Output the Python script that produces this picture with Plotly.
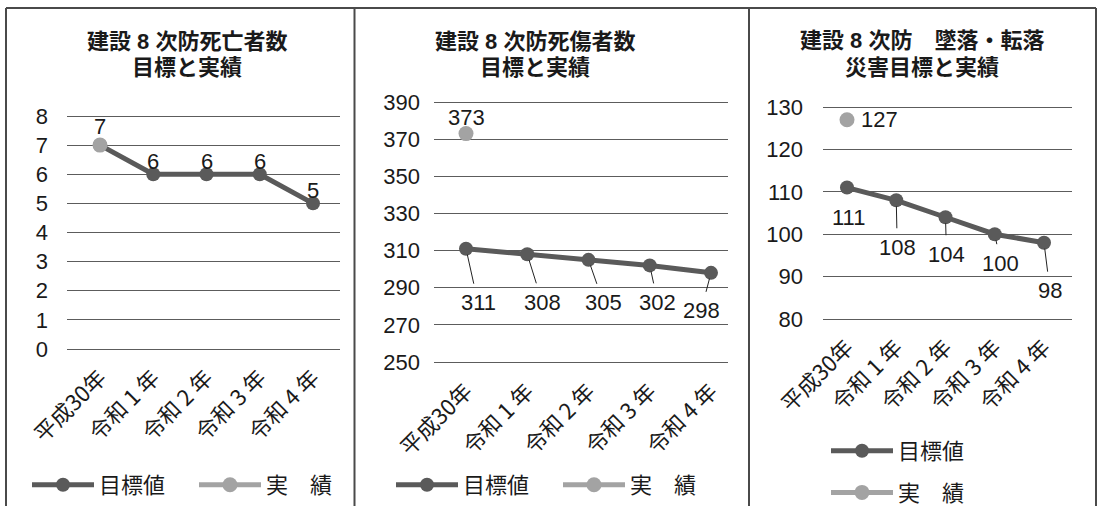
import plotly.graph_objects as go

W, H = 1100, 506

categories = ["平成30年", "令和 1 年", "令和 2 年", "令和 3 年", "令和 4 年"]

deaths_target = [7, 6, 6, 6, 5]
deaths_actual = [7]

casualties_target = [311, 308, 305, 302, 298]
casualties_actual = [373]

falls_target = [111, 108, 104, 100, 98]
falls_actual = [127]

titles = [["建設 8 次防死亡者数", "目標と実績"],
          ["建設 8 次防死傷者数", "目標と実績"],
          ["建設 8 次防　墜落・転落", "災害目標と実績"]]

y_ticks = [[0, 1, 2, 3, 4, 5, 6, 7, 8],
           [250, 270, 290, 310, 330, 350, 370, 390],
           [80, 90, 100, 110, 120, 130]]

DARK = "#5a5a5a"
LIGHT = "#a3a3a3"
GRID = "#5c5c5c"
NUM_FONT = "Liberation Sans, Arial, Noto Sans CJK JP, sans-serif"
JP_FONT = "Noto Sans CJK JP, Liberation Sans, sans-serif"


def xlayout(p0, p4, left, right):
    u = (p4 - p0) / 4.0
    return [left / W, right / W], [-(p0 - left) / u, 4 + (right - p4) / u]


def ylayout(v_lo, p_lo, v_hi, p_hi, r_lo, r_hi):
    k = (p_lo - p_hi) / (v_hi - v_lo)
    top = p_hi - (r_hi - v_hi) * k
    bot = p_lo + (v_lo - r_lo) * k
    return [1 - bot / H, 1 - top / H], [r_lo, r_hi]


panels = [
    dict(target=deaths_target, actual=deaths_actual,
         x=xlayout(100, 313, 67, 340), y=ylayout(0, 349, 8, 116, -0.3, 8.3),
         legend="legend", ystand=18),
    dict(target=casualties_target, actual=casualties_actual,
         x=xlayout(466, 711, 434, 728), y=ylayout(250, 362, 390, 102, 245, 395),
         legend="legend2", ystand=13),
    dict(target=falls_target, actual=falls_actual,
         x=xlayout(847, 1044, 823, 1072), y=ylayout(80, 319, 130, 107, 78, 132),
         legend="legend3", ystand=19),
]

fig = go.Figure()
layout = {}
annotations = []

for i, p in enumerate(panels):
    sfx = "" if i == 0 else str(i + 1)
    xa, ya = "x" + sfx, "y" + sfx
    fig.add_trace(go.Scatter(
        x=categories[:len(p["target"])], y=p["target"], name="目標値",
        mode="lines+markers", xaxis=xa, yaxis=ya,
        line=dict(color=DARK, width=5), marker=dict(color=DARK, size=14),
        legend=p["legend"], legendgroup="t", hoverinfo="x+y"))
    fig.add_trace(go.Scatter(
        x=categories[:len(p["actual"])], y=p["actual"], name="実　績",
        mode="lines+markers", xaxis=xa, yaxis=ya,
        line=dict(color=LIGHT, width=5), marker=dict(color=LIGHT, size=15),
        legend=p["legend"], legendgroup="a", hoverinfo="x+y"))
    xdom, xr = p["x"]
    ydom, yr = p["y"]
    layout["xaxis" + sfx] = dict(
        domain=xdom, range=xr, type="category", categoryarray=categories,
        anchor=ya, showgrid=False, zeroline=False, showline=False,
        tickangle=-45, ticklabelstandoff=2, automargin=False,
        tickfont=dict(size=22, family=JP_FONT, color="#1a1a1a"))
    layout["yaxis" + sfx] = dict(
        domain=ydom, range=yr, anchor=xa, tickvals=y_ticks[i],
        showgrid=True, gridcolor=GRID, gridwidth=1, zeroline=False,
        showline=False, ticklabelstandoff=p["ystand"], automargin=False,
        tickfont=dict(size=22, family=NUM_FONT, color="#1a1a1a"))

# panel 1: labels above points
for j, v in enumerate(deaths_target):
    if j == 0:
        continue
    annotations.append(dict(x=categories[j], y=v, xref="x", yref="y", text=str(v),
                            showarrow=False, yshift=13))
annotations.append(dict(x=categories[0], y=deaths_actual[0], xref="x", yref="y",
                        text=str(deaths_actual[0]), showarrow=False, yshift=19))

# panel 2: leader-line labels below points
offsets2 = [(12, 54), (15, 48), (15, 43), (8, 37), (-10, 38)]
for j, v in enumerate(casualties_target):
    annotations.append(dict(x=categories[j], y=v, xref="x2", yref="y2", text=str(v),
                            showarrow=True, arrowhead=0, arrowwidth=1, arrowcolor="#222",
                            ax=offsets2[j][0], ay=offsets2[j][1], standoff=6, borderpad=6))
annotations.append(dict(x=categories[0], y=casualties_actual[0], xref="x2", yref="y2",
                        text=str(casualties_actual[0]), showarrow=False, yshift=16))

# panel 3
offsets3 = [(1, 30), (1, 47), (1, 37), (6, 29), (6, 48)]
for j, v in enumerate(falls_target):
    arrow = j > 0
    annotations.append(dict(x=categories[j], y=v, xref="x3", yref="y3", text=str(v),
                            showarrow=arrow, arrowhead=0, arrowwidth=1, arrowcolor="#222",
                            ax=offsets3[j][0], ay=offsets3[j][1], standoff=6, borderpad=6,
                            yshift=0 if arrow else -offsets3[j][1],
                            xshift=0 if arrow else offsets3[j][0]))
annotations.append(dict(x=categories[0], y=falls_actual[0], xref="x3", yref="y3",
                        text=str(falls_actual[0]), showarrow=False, xshift=32))

for a in annotations:
    a["font"] = dict(size=22, family=NUM_FONT, color="#1a1a1a")

# titles (two lines each)
title_x = [187, 535, 922]
title_y = [[42, 67], [42, 67], [41, 67]]
for lines, tx, tys in zip(titles, title_x, title_y):
    for line, ty in zip(lines, tys):
        annotations.append(dict(x=tx / W, y=1 - ty / H, xref="paper", yref="paper",
                                text="<b>" + line + "</b>",
                                showarrow=False, xanchor="center", yanchor="middle",
                                font=dict(size=22, family=NUM_FONT, color="#1a1a1a")))

# panel frames
shapes = []
line_style = dict(color="#4a4a4a", width=2)
shapes.append(dict(type="line", xref="paper", yref="paper", x0=6 / W, x1=1096 / W,
                   y0=1 - 8 / H, y1=1 - 8 / H, line=line_style))
for px in [6, 354.5, 749, 1096]:
    shapes.append(dict(type="line", xref="paper", yref="paper", x0=px / W, x1=px / W,
                       y0=0, y1=1 - 8 / H, line=line_style))

legend_common = dict(font=dict(size=22, family=JP_FONT, color="#1a1a1a"),
                     itemwidth=62, bgcolor="rgba(0,0,0,0)", xanchor="left",
                     yanchor="middle", itemclick=False, itemdoubleclick=False)

fig.update_layout(
    width=W, height=H, margin=dict(l=0, r=0, t=0, b=0, autoexpand=False),
    paper_bgcolor="white", plot_bgcolor="white",
    showlegend=True,
    annotations=annotations, shapes=shapes,
    legend=dict(orientation="h", x=27 / W, y=1 - 485 / H, entrywidth=90,
                traceorder="normal", **legend_common),
    legend2=dict(orientation="h", x=391 / W, y=1 - 485 / H, entrywidth=90,
                 traceorder="normal", **legend_common),
    legend3=dict(orientation="v", x=826 / W, y=1 - 472 / H, tracegroupgap=10,
                 traceorder="grouped", **legend_common),
    **layout,
)

fig.write_html("out.html")
